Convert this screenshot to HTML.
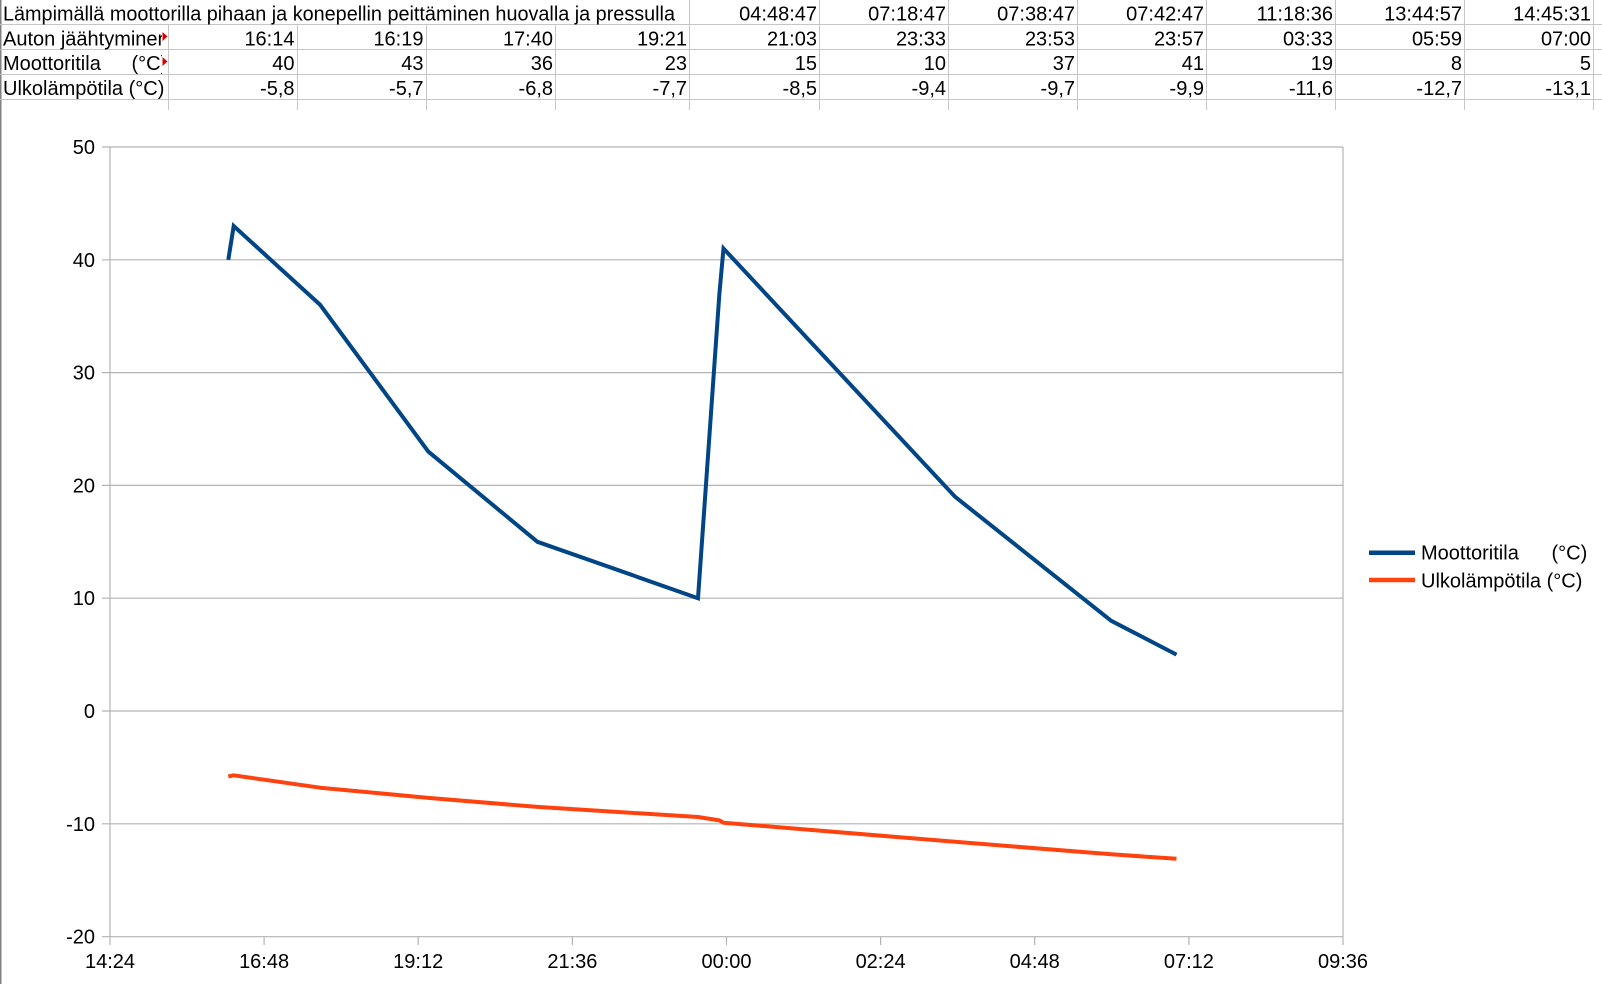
<!DOCTYPE html>
<html>
<head>
<meta charset="utf-8">
<style>
html,body{margin:0;padding:0;background:#fff;}
svg{display:block;}
text{font-family:"Liberation Sans",Arial,sans-serif;font-size:20px;fill:#000;}
</style>
</head>
<body>
<svg width="1602" height="984" viewBox="0 0 1602 984" xmlns="http://www.w3.org/2000/svg">
<defs>
<clipPath id="c1"><rect x="0" y="0" width="162" height="984"/></clipPath>
</defs>
<rect x="0" y="0" width="1602" height="984" fill="#fff"/>
<!-- left border -->
<line x1="0.75" y1="0" x2="0.75" y2="984" stroke="#808080" stroke-width="1.5"/>

<!-- spreadsheet grid -->
<g stroke="#c6c6c6" stroke-width="1">
<line x1="0" y1="24.5" x2="1602" y2="24.5"/>
<line x1="0" y1="49.5" x2="1602" y2="49.5"/>
<line x1="0" y1="74.5" x2="1602" y2="74.5"/>
<line x1="0" y1="99.5" x2="1602" y2="99.5"/>
<line x1="168.5" y1="24.5" x2="168.5" y2="110"/>
<line x1="297.5" y1="24.5" x2="297.5" y2="110"/>
<line x1="426.5" y1="24.5" x2="426.5" y2="110"/>
<line x1="555.5" y1="24.5" x2="555.5" y2="110"/>
<line x1="689.5" y1="0" x2="689.5" y2="110"/>
<line x1="819.5" y1="0" x2="819.5" y2="110"/>
<line x1="948.5" y1="0" x2="948.5" y2="110"/>
<line x1="1077.5" y1="0" x2="1077.5" y2="110"/>
<line x1="1206.5" y1="0" x2="1206.5" y2="110"/>
<line x1="1335.5" y1="0" x2="1335.5" y2="110"/>
<line x1="1464.5" y1="0" x2="1464.5" y2="110"/>
<line x1="1593.5" y1="0" x2="1593.5" y2="110"/>
</g>

<!-- table text -->
<text x="3" y="20.5" textLength="672" lengthAdjust="spacingAndGlyphs">Lämpimällä moottorilla pihaan ja konepellin peittäminen huovalla ja pressulla</text>
<g clip-path="url(#c1)">
<text x="3" y="45.5">Auton jäähtyminen</text>
<text x="3" y="70">Moottoritila</text>
<text x="131.5" y="70">(°C)</text>
</g>
<text x="3" y="95">Ulkolämpötila (°C)</text>
<polygon points="162.5,32 167.5,36.5 162.5,41" fill="#e00000"/>
<polygon points="162.5,57 167.5,61.5 162.5,66" fill="#e00000"/>

<g text-anchor="end">
<text x="817" y="20.5">04:48:47</text>
<text x="946" y="20.5">07:18:47</text>
<text x="1075" y="20.5">07:38:47</text>
<text x="1204" y="20.5">07:42:47</text>
<text x="1333" y="20.5">11:18:36</text>
<text x="1462" y="20.5">13:44:57</text>
<text x="1591" y="20.5">14:45:31</text>

<text x="294.5" y="45.5">16:14</text>
<text x="423.5" y="45.5">16:19</text>
<text x="553" y="45.5">17:40</text>
<text x="687" y="45.5">19:21</text>
<text x="817" y="45.5">21:03</text>
<text x="946" y="45.5">23:33</text>
<text x="1075" y="45.5">23:53</text>
<text x="1204" y="45.5">23:57</text>
<text x="1333" y="45.5">03:33</text>
<text x="1462" y="45.5">05:59</text>
<text x="1591" y="45.5">07:00</text>

<text x="294.5" y="70">40</text>
<text x="423.5" y="70">43</text>
<text x="553" y="70">36</text>
<text x="687" y="70">23</text>
<text x="817" y="70">15</text>
<text x="946" y="70">10</text>
<text x="1075" y="70">37</text>
<text x="1204" y="70">41</text>
<text x="1333" y="70">19</text>
<text x="1462" y="70">8</text>
<text x="1591" y="70">5</text>

<text x="294.5" y="95">-5,8</text>
<text x="423.5" y="95">-5,7</text>
<text x="553" y="95">-6,8</text>
<text x="687" y="95">-7,7</text>
<text x="817" y="95">-8,5</text>
<text x="946" y="95">-9,4</text>
<text x="1075" y="95">-9,7</text>
<text x="1204" y="95">-9,9</text>
<text x="1333" y="95">-11,6</text>
<text x="1462" y="95">-12,7</text>
<text x="1591" y="95">-13,1</text>
</g>

<!-- chart gridlines -->
<g stroke="#b3b3b3" stroke-width="1.2">
<line x1="102" y1="147" x2="1343" y2="147"/>
<line x1="102" y1="259.8" x2="1343" y2="259.8"/>
<line x1="102" y1="372.6" x2="1343" y2="372.6"/>
<line x1="102" y1="485.4" x2="1343" y2="485.4"/>
<line x1="102" y1="598.2" x2="1343" y2="598.2"/>
<line x1="102" y1="711" x2="1343" y2="711"/>
<line x1="102" y1="823.8" x2="1343" y2="823.8"/>
<line x1="102" y1="936.7" x2="1343" y2="936.7"/>
<line x1="110" y1="147" x2="110" y2="945"/>
<line x1="1343" y1="147" x2="1343" y2="945"/>
<line x1="264.1" y1="936.7" x2="264.1" y2="945"/>
<line x1="418.2" y1="936.7" x2="418.2" y2="945"/>
<line x1="572.4" y1="936.7" x2="572.4" y2="945"/>
<line x1="726.5" y1="936.7" x2="726.5" y2="945"/>
<line x1="880.6" y1="936.7" x2="880.6" y2="945"/>
<line x1="1034.7" y1="936.7" x2="1034.7" y2="945"/>
<line x1="1188.9" y1="936.7" x2="1188.9" y2="945"/>
</g>

<!-- y labels -->
<g text-anchor="end">
<text x="95" y="154">50</text>
<text x="95" y="266.8">40</text>
<text x="95" y="379.6">30</text>
<text x="95" y="492.4">20</text>
<text x="95" y="605.2">10</text>
<text x="95" y="718">0</text>
<text x="95" y="830.8">-10</text>
<text x="95" y="943.7">-20</text>
</g>
<!-- x labels -->
<g text-anchor="middle">
<text x="110" y="968">14:24</text>
<text x="264.1" y="968">16:48</text>
<text x="418.2" y="968">19:12</text>
<text x="572.4" y="968">21:36</text>
<text x="726.5" y="968">00:00</text>
<text x="880.6" y="968">02:24</text>
<text x="1034.7" y="968">04:48</text>
<text x="1188.9" y="968">07:12</text>
<text x="1343" y="968">09:36</text>
</g>

<!-- series -->
<polyline fill="none" stroke="#004586" stroke-width="4" stroke-linejoin="miter" stroke-miterlimit="10"
 points="228.3,259.8 233.7,226 320.2,304.9 428.3,451.6 537.4,541.8 698,598.2 719.4,293.6 723.5,248.5 955,496.7 1111.2,620.8 1176.5,654.6"/>
<polyline fill="none" stroke="#ff420e" stroke-width="4" stroke-linejoin="round"
 points="228.3,776.4 233.7,775.3 320.2,787.7 428.3,797.9 537.4,806.9 698,817 719.4,820.4 723.5,822.7 955,841.8 1111.2,854.3 1176.5,858.8"/>

<!-- legend -->
<line x1="1369" y1="552.7" x2="1415" y2="552.7" stroke="#004586" stroke-width="4.5"/>
<line x1="1369" y1="580" x2="1415" y2="580" stroke="#ff420e" stroke-width="4.5"/>
<text x="1421" y="559.3">Moottoritila</text>
<text x="1551.5" y="559.3">(°C)</text>
<text x="1421" y="587.3">Ulkolämpötila (°C)</text>
</svg>
</body>
</html>
